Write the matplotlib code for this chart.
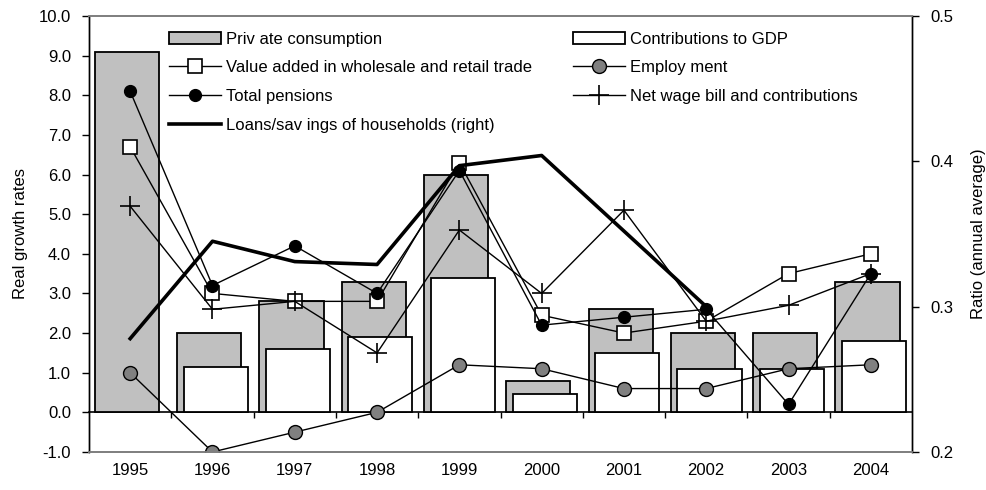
import numpy as np
import matplotlib
matplotlib.use("Agg")
import matplotlib.pyplot as plt
from matplotlib.ticker import FormatStrFormatter

plt.rcParams['font.family'] = ['Liberation Sans', 'DejaVu Sans']
plt.rcParams['font.size'] = 12

years = ['1995', '1996', '1997', '1998', '1999', '2000', '2001', '2002', '2003', '2004']
private_consumption = [9.1, 2.0, 2.8, 3.3, 6.0, 0.8, 2.6, 2.0, 2.0, 3.3]
contributions_gdp = [np.nan, 1.15, 1.6, 1.9, 3.4, 0.47, 1.5, 1.1, 1.1, 1.8]
value_added = [6.7, 3.0, 2.8, 2.8, 6.3, 2.45, 2.0, 2.3, 3.5, 4.0]
employment = [1.0, -1.0, -0.5, 0.0, 1.2, 1.1, 0.6, 0.6, 1.1, 1.2]
total_pensions = [8.1, 3.2, 4.2, 3.0, 6.1, 2.2, 2.4, 2.6, 0.2, 3.5]
net_wage = [5.2, 2.6, 2.8, 1.5, 4.6, 3.0, 5.1, 2.3, 2.7, 3.5]
loans_savings = [0.278, 0.345, 0.331, 0.329, 0.397, 0.404, 0.352, 0.300, np.nan, np.nan]

x = np.arange(len(years))
gray = '#c0c0c0'
spine_gray = '#808080'

fig = plt.figure(figsize=(9.87, 4.9), dpi=100)
ax = fig.add_axes([0.0902, 0.0776, 0.8338, 0.8898])

bw = 0.78
b1 = ax.bar(x - 0.04, private_consumption, width=bw, color=gray, edgecolor='black', linewidth=1.3,
            label='Priv ate consumption', zorder=2)
b2 = ax.bar(x + 0.04, contributions_gdp, width=bw, color='white', edgecolor='black', linewidth=1.3,
            label='Contributions to GDP', zorder=2)

l_va, = ax.plot(x, value_added, color='black', lw=1.0, marker='s', ms=10, mfc='white', mec='black',
                mew=1.2, label='Value added in wholesale and retail trade', zorder=4)
l_emp, = ax.plot(x, employment, color='black', lw=1.0, marker='o', ms=10, mfc='#808080', mec='black',
                 mew=1.0, label='Employ ment', zorder=4)
l_tp, = ax.plot(x, total_pensions, color='black', lw=1.0, marker='o', ms=8.5, mfc='black', mec='black',
                label='Total pensions', zorder=4)
l_nw, = ax.plot(x, net_wage, color='black', lw=1.0, marker='+', ms=15, mew=1.2,
                label='Net wage bill and contributions', zorder=4)

ax.set_xlim(-0.5, len(years) - 0.5)
ax.set_ylim(-1.0, 10.0)
ax.set_yticks(np.arange(-1, 11, 1))
ax.yaxis.set_major_formatter(FormatStrFormatter('%.1f'))
ax.set_xticks(x)
ax.set_xticklabels(years)
ax.tick_params(axis='x', length=0, pad=8)
ax.tick_params(axis='y', direction='out', length=5, width=1, pad=8, colors='black')
ax.set_ylabel('Real growth rates', labelpad=8)

for s in ['top', 'bottom']:
    ax.spines[s].set_color(spine_gray)
    ax.spines[s].set_linewidth(1.3)
for s in ['left', 'right']:
    ax.spines[s].set_color('black')
    ax.spines[s].set_linewidth(1.0)

# category axis crossing at 0
ymin, ymax = ax.get_ylim()
sec = ax.secondary_xaxis((0 - ymin) / (ymax - ymin))
sec.set_xticks(np.arange(0.5, len(years) - 1, 1.0))
sec.set_xticklabels([])
sec.tick_params(direction='out', length=4, width=1, colors='black')
sec.spines['bottom'].set_color('black')
sec.spines['bottom'].set_linewidth(1.2)

ax2 = ax.twinx()
l_loans, = ax2.plot(x, loans_savings, color='black', lw=2.6, label='Loans/sav ings of households (right)',
                    zorder=5)
ax2.set_ylim(0.2, 0.5)
ax2.set_yticks([0.2, 0.3, 0.4, 0.5])
ax2.yaxis.set_major_formatter(FormatStrFormatter('%.1f'))
ax2.tick_params(axis='y', direction='out', length=5, width=1, pad=8)
ax2.set_ylabel('Ratio (annual average)', labelpad=13)
for s in ['top', 'bottom']:
    ax2.spines[s].set_color(spine_gray)
    ax2.spines[s].set_linewidth(1.3)
for s in ['left', 'right']:
    ax2.spines[s].set_color('black')
    ax2.spines[s].set_linewidth(1.0)

handles = [b1, l_va, l_tp, l_loans, b2, l_emp, l_nw]
labels = [h.get_label() for h in handles]
leg = ax2.legend(handles, labels, ncol=2, loc='upper left', bbox_to_anchor=(0.093, 0.972),
                 frameon=False, handlelength=3.1, handletextpad=0.3, columnspacing=2.5,
                 labelspacing=0.82, borderpad=0.2, borderaxespad=0)

fig.savefig('out.png', dpi=100)
